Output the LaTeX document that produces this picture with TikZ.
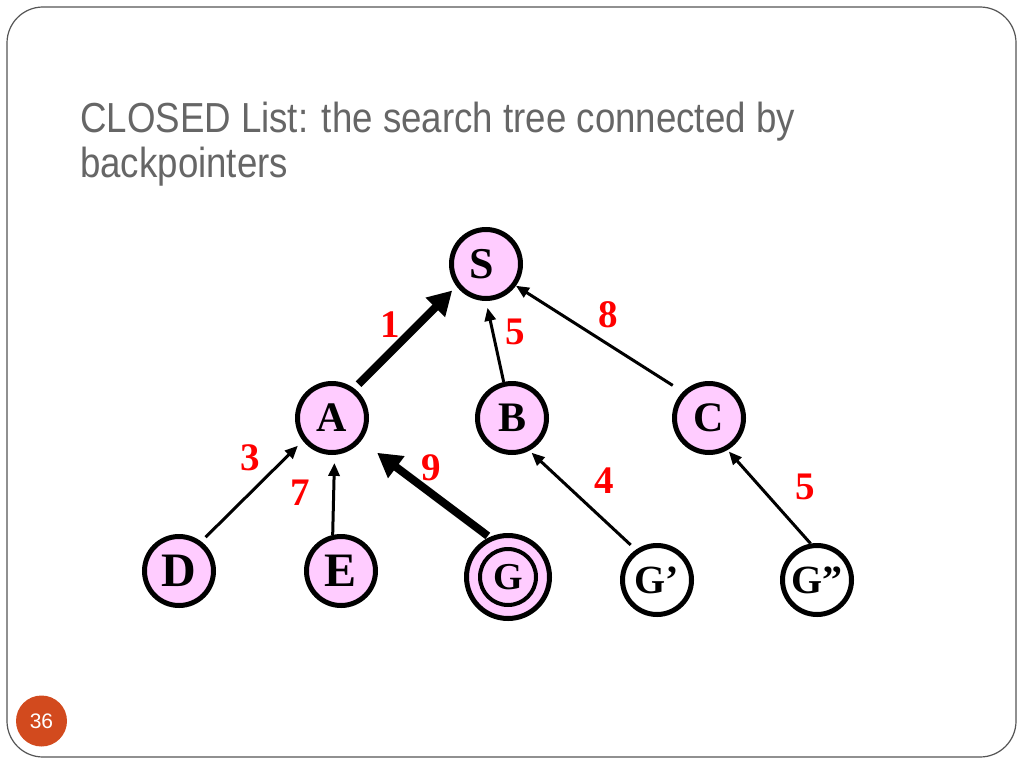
\documentclass[tikz,border=0pt]{standalone}
\usepackage{fontspec}
\setmainfont{Liberation Serif}
\newfontfamily\titlefont{Liberation Sans}
\usetikzlibrary{arrows.meta}
\definecolor{nodepink}{RGB}{255,204,255}
\definecolor{titlegray}{RGB}{102,102,102}
\definecolor{badge}{RGB}{210,74,30}
\definecolor{framegray}{RGB}{85,85,85}
\newcommand{\nfont}[1]{\bfseries\fontsize{#1}{#1}\selectfont}
\begin{document}
\begin{tikzpicture}[x=1pt,y=-1pt,
  vnode/.style={circle,draw=black,line width=5pt,fill=nodepink,minimum size=69pt,inner sep=0pt},
  wnode/.style={vnode,fill=white},
  wlabel/.style={text=red,font=\nfont{39},inner sep=0pt},
  thinedge/.style={line width=3pt,-{Triangle[length=13pt,width=11pt]}},
  thickedge/.style={line width=8pt,-{Triangle[length=24pt,width=26pt]}}]
\useasboundingbox (0,0) rectangle (1024,768);
\fill[white] (0,0) rectangle (1024,768);
\draw[framegray,line width=1.2pt,rounded corners=36pt] (7,7) rectangle (1016,757);
% title
\node[anchor=base west,inner sep=0pt,text=titlegray,font=\titlefont\fontsize{42}{42}\selectfont] (t1) at (80,132) {\scalebox{0.873}[1]{CLOSED List: the search tree connected by}};
\node[anchor=base west,inner sep=0pt,text=titlegray,font=\titlefont\fontsize{42}{42}\selectfont] (t2) at (80,177) {\scalebox{0.873}[1]{backpointers}};
% badge
\node[circle,fill=badge,minimum size=51pt,inner sep=0pt,text=white,font=\titlefont\fontsize{21}{21}\selectfont] (badge) at (41.5,721) {36};
% nodes
\node[vnode] (S) at (486,264) {\nfont{44}\hspace*{-8pt}S};
\node[vnode] (A) at (332,418) {\nfont{42}A};
\node[vnode] (B) at (512,418) {\nfont{42}B};
\node[vnode] (C) at (709,418) {\nfont{42}C};
\node[vnode] (D) at (179,571) {\nfont{48}D};
\node[vnode] (E) at (341,571) {\nfont{48}E};
\node[vnode,minimum size=83pt] (G) at (508,577) {};
\node[circle,draw=black,line width=4pt,minimum size=56pt,inner sep=0pt] (Gin) at (508,577) {\raisebox{-5pt}{\nfont{38}G}};
\node[wnode] (G1) at (657,580) {\nfont{40}G’};
\node[wnode] (G2) at (817,580) {\nfont{40}G”};
% edges
\draw[thickedge,shorten <=6pt,shorten >=6pt] (A.53) -- (S.217);
\draw[thinedge,shorten >=7pt] (B.103) -- (S.270);
\draw[thinedge,shorten <=12pt] (C.135) -- (S.-36);
\draw[thinedge,shorten <=6pt,shorten >=7pt] (D.53) -- (A.218);
\draw[thinedge,shorten >=8pt] (E.103) -- (A.274);
\draw[thickedge,shorten <=2pt,shorten >=20pt] (G.115) -- (A.-38);
\draw[thinedge,shorten <=7pt,shorten >=3pt] (G1.125) -- (B.-62);
\draw[thinedge,shorten >=2pt] (G2.100) -- (C.-60);
% weights
\node[wlabel] (w1) at (390,325) {1};
\node[wlabel] (w2) at (515,332) {5};
\node[wlabel] (w3) at (608,315) {8};
\node[wlabel] (w4) at (250,458) {3};
\node[wlabel] (w5) at (300,493) {7};
\node[wlabel] (w6) at (431,468) {9};
\node[wlabel] (w7) at (604,481) {4};
\node[wlabel] (w8) at (805,487) {5};
\end{tikzpicture}
\end{document}
